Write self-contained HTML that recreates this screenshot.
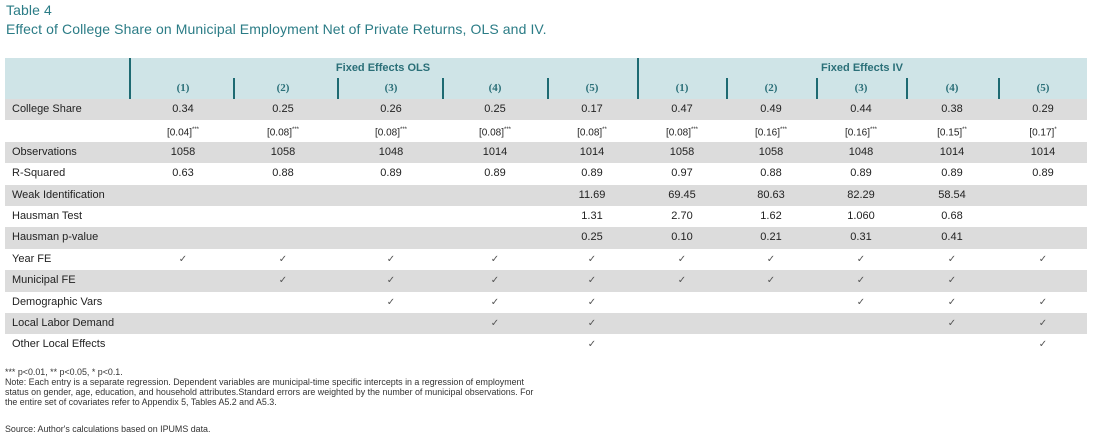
<!DOCTYPE html>
<html><head><meta charset="utf-8"><style>
body{margin:0;width:1094px;height:438px;background:#fff;position:relative;overflow:hidden;font-family:"Liberation Sans",sans-serif;color:#222}
.a{position:absolute}
.t{color:#2b7c86;font-size:14px;left:6px;letter-spacing:0.1px}
.row{position:absolute;left:5px;width:1082px;height:21.4px}
.g{background:#dcdcdc}
.c{position:absolute;font-size:11px;text-align:center;width:100px;line-height:21.4px}
.lab{position:absolute;left:7px;font-size:11px;line-height:21.4px}
.hd{position:absolute;background:#cfe4e7;left:5px;top:58px;width:1082px;height:41px}
.sep{position:absolute;width:1.5px;background:#1d6a72}
.hn{position:absolute;font-family:"Liberation Serif",serif;font-weight:bold;font-size:11px;color:#2a6f78;width:60px;text-align:center;top:82px}
.gt{position:absolute;font-weight:bold;font-size:11px;color:#2a6f78;top:62px;width:200px;text-align:center}
.fn{position:absolute;left:5px;font-size:8.9px;color:#333;line-height:10px;white-space:nowrap}
</style></head><body>
<div class="a t" style="top:2px">Table 4</div>
<div class="a t" style="top:21px">Effect of College Share on Municipal Employment Net of Private Returns, OLS and IV.</div>
<div class="hd"></div>
<div class="gt" style="left:283px">Fixed Effects OLS</div>
<div class="gt" style="left:762px">Fixed Effects IV</div>
<div id="tbl"></div>
<div class="fn" style="top:367px">*** p&lt;0.01, ** p&lt;0.05, * p&lt;0.1.</div>
<div class="fn" style="top:377px">Note: Each entry is a separate regression. Dependent variables are municipal-time specific intercepts in a regression of employment<br>status on gender, age, education, and household attributes.Standard errors are weighted by the number of municipal observations. For<br>the entire set of covariates refer to Appendix 5, Tables A5.2 and A5.3.</div>
<div class="fn" style="top:424px">Source: Author's calculations based on IPUMS data.</div>
<script>
const colHeads=["(1)","(2)","(3)","(4)","(5)","(1)","(2)","(3)","(4)","(5)"];
const centers=[183,283,391,495,592,682,771,861,952,1043];
const rowLabels=["College Share","","Observations","R-Squared","Weak Identification","Hausman Test","Hausman p-value","Year FE","Municipal FE","Demographic Vars","Local Labor Demand","Other Local Effects"];
const coef=["0.34","0.25","0.26","0.25","0.17","0.47","0.49","0.44","0.38","0.29"];
const se=["[0.04]***","[0.08]***","[0.08]***","[0.08]***","[0.08]**","[0.08]***","[0.16]***","[0.16]***","[0.15]**","[0.17]*"];
const obs=["1058","1058","1048","1014","1014","1058","1058","1048","1014","1014"];
const r2=["0.63","0.88","0.89","0.89","0.89","0.97","0.88","0.89","0.89","0.89"];
const weak=["","","","","11.69","69.45","80.63","82.29","58.54",""];
const haus=["","","","","1.31","2.70","1.62","1.060","0.68",""];
const hausp=["","","","","0.25","0.10","0.21","0.31","0.41",""];
const yearFE=[1,1,1,1,1,1,1,1,1,1];
const muniFE=[0,1,1,1,1,1,1,1,1,0];
const demo=[0,0,1,1,1,0,0,1,1,1];
const labor=[0,0,0,1,1,0,0,0,1,1];
const other=[0,0,0,0,1,0,0,0,0,1];
const ck=a=>a.map(v=>v?"✓":"");
const rows=[coef,se,obs,r2,weak,haus,hausp,ck(yearFE),ck(muniFE),ck(demo),ck(labor),ck(other)];
const tbl=document.getElementById('tbl');
const seps=[[129,58,41],[233,78,21],[337,78,21],[442,78,21],[547,78,21],[637,58,41],[726,78,21],[816,78,21],[906,78,21],[998,78,21]];
seps.forEach(s=>{const d=document.createElement('div');d.className='sep';


d.style.left=s[0]+'px';d.style.top=s[1]+'px';d.style.height=s[2]+'px';tbl.appendChild(d);});
colHeads.forEach((h,i)=>{const d=document.createElement('div');d.className='hn';


d.style.left=(centers[i]-30)+'px';d.textContent=h;tbl.appendChild(d);});
rows.forEach((r,ri)=>{const top=99+ri*21.4;
const rw=document.createElement('div');rw.className='row'+(ri%2==0?' g':'');


rw.style.top=top+'px';tbl.appendChild(rw);
const l=document.createElement('div');l.className='lab';l.textContent=rowLabels[ri];


rw.appendChild(l);
r.forEach((v,ci)=>{if(!v)return;const c=document.createElement('div');c.className='c';


c.style.left=(centers[ci]-55)+'px';
if(ri==1){const m=v.match(/^(\[[^\]]*\])(\**)$/);c.innerHTML=m[1]+'<sup style="font-size:6px">'+m[2]+'</sup>';c.style.fontSize='10px';}
else if(ri>=7){c.textContent=v;c.style.fontSize='10px';c.style.color='#555';}
else c.textContent=v;
rw.appendChild(c);});});
</script>
</body></html>
